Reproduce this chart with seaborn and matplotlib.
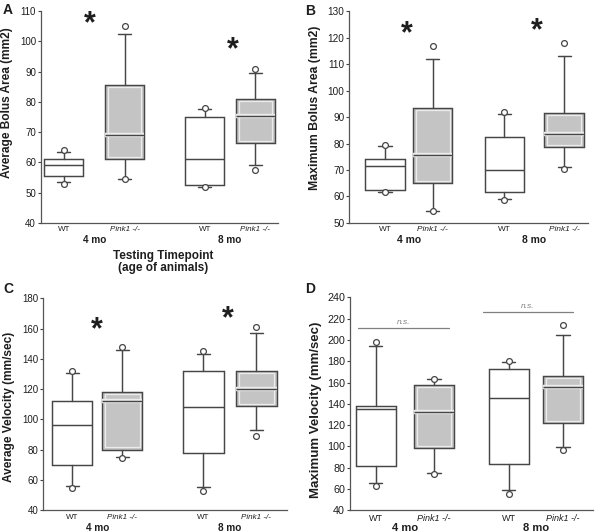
import matplotlib
matplotlib.use("Agg")
import matplotlib.pyplot as plt
import matplotlib.transforms as mtransforms
import matplotlib.patheffects as pe
from matplotlib.patches import Rectangle
import seaborn as sns

# ─── data: (low dot, whisker low, q1, median, q3, whisker high, high dot) ───
groups = ["WT", "Pink1 -/-", "WT", "Pink1 -/-"]
timepoints = ["4 mo", "8 mo"]

avg_area = [(53, 53.5, 55.5, 59, 61, 63.5, 64),
            (54.5, 54.5, 61, 69, 85.5, 102.5, 105),
            (52, 52, 52.5, 61, 75, 77.5, 78),
            (57.5, 59, 66.5, 75.5, 81, 89.5, 91)]
max_area = [(61.5, 61.5, 62.5, 71.5, 74, 79, 79.5),
            (54.5, 54.5, 65, 75.5, 93.5, 112, 117),
            (58.5, 59, 61.5, 70, 82.5, 91, 92),
            (70.5, 71, 78.5, 83.5, 91.5, 113, 118)]
avg_vel = [(55, 56, 70, 96, 112, 130.5, 132),
           (74.5, 75, 80, 112, 118, 146, 148),
           (53, 55.5, 77.5, 108.5, 132, 143, 145),
           (89, 93, 109, 120, 132, 157, 161)]
max_vel = [(63, 66, 82, 135, 138, 194, 198),
           (74, 75, 98, 132, 158, 163, 163),
           (55, 59, 83, 145, 173, 179, 180),
           (97, 99, 122, 156, 166, 205, 214)]

stars_a = [108, 99.5]
stars_b = [124, 125]
stars_c = [163.5, 171]
ns_d = [211, 226]

# ─── style ───────────────────────────────────────────────────────────────────
sns.set_style("ticks")
plt.rcParams["font.family"] = ["Liberation Sans", "DejaVu Sans"]
EDGE = "#464646"
TXT = "#1e1e1e"
FILL = {"WT": "white", "Pink1 -/-": "#c4c4c4"}

fig = plt.figure(figsize=(6, 5.32), dpi=100)

# letter, data, rect, ylim, step, ylabel, box x, stars, star x, label y, text scale
panels = [
    ("A", avg_area, [0.068, 0.581, 0.395, 0.398], (40, 110), 10,
     "Average Bolus Area (mm2)", [0.097, 0.354, 0.692, 0.905], stars_a, [0.207, 0.81], 0.57, 1.0),
    ("B", max_area, [0.582, 0.581, 0.398, 0.398], (50, 130), 10,
     "Maximum Bolus Area (mm2)", [0.15, 0.35, 0.65, 0.90], stars_b, [0.243, 0.786], 0.545, 1.03),
    ("C", avg_vel, [0.072, 0.041, 0.407, 0.398], (40, 180), 20,
     "Average Velocity (mm/sec)", [0.119, 0.324, 0.656, 0.873], stars_c, [0.221, 0.754], 0.49, 1.0),
    ("D", max_vel, [0.583, 0.041, 0.405, 0.4], (40, 240), 20,
     "Maximum Velocity (mm/sec)", [0.107, 0.346, 0.654, 0.877], None, None, 0.47, 1.11),
]
letter_xy = {"A": (0.004, 0.995), "B": (0.508, 0.993), "C": (0.006, 0.47), "D": (0.508, 0.47)}
BW = 0.165

for letter, data, rect, ylim, step, ylabel, pos, marks, mark_x, lab_y, k in panels:
    ax = fig.add_axes(rect)
    stats = []
    for g, (lo, wl, q1, med, q3, wh, hi) in zip(groups, data):
        stats.append(dict(med=med, q1=q1, q3=q3, whislo=wl, whishi=wh,
                          fliers=[lo, hi], label=g))
    bp = ax.bxp(stats, positions=pos, widths=BW, capwidths=0.055,
                patch_artist=True, showfliers=True,
                boxprops=dict(edgecolor=EDGE, linewidth=1.05),
                whiskerprops=dict(color=EDGE, linewidth=1.05),
                capprops=dict(color=EDGE, linewidth=1.05),
                medianprops=dict(color=EDGE, linewidth=1.05),
                flierprops=dict(marker="o", markersize=4.2, markerfacecolor="white",
                                markeredgecolor=EDGE, markeredgewidth=0.9))
    dy = (ylim[1] - ylim[0]) / 212 * 2.2
    for box, med_line, g, x, st in zip(bp["boxes"], bp["medians"], groups, pos, stats):
        box.set_facecolor(FILL[g])
        if g != "WT":
            # light inner outline + halo round the median, as in the original
            ax.add_patch(Rectangle((x - BW / 2 + 0.012, st["q1"] + dy),
                                   BW - 0.024, st["q3"] - st["q1"] - 2 * dy,
                                   fill=False, edgecolor="#ececec", linewidth=0.9, zorder=2.5))
            med_line.set_path_effects([pe.Stroke(linewidth=3.2, foreground="#ececec"),
                                       pe.Normal()])
            med_line.set_zorder(3)

    ax.set_xlim(0, 1)
    ax.set_ylim(*ylim)
    ax.set_yticks(range(ylim[0], ylim[1] + 1, step))
    ax.tick_params(axis="y", labelsize=7 * k, colors="#444444", labelcolor=TXT,
                   length=2.5, width=0.8, pad=1)
    ax.tick_params(axis="x", length=0, labelsize=5.8 * k, pad=2.5, labelcolor=TXT)
    ax.set_xticks(pos)
    ax.set_xticklabels(groups)
    for t in ax.get_xticklabels():
        if t.get_text().startswith("Pink1"):
            t.set_fontstyle("italic")
    ax.set_ylabel(ylabel, fontsize=8.6 * k, fontweight="bold", color=TXT)
    width_px = rect[2] * 600
    ax.yaxis.set_label_coords(-28 / width_px, lab_y)
    sns.despine(ax=ax)
    for s in ("left", "bottom"):
        ax.spines[s].set_color("#555555")
        ax.spines[s].set_linewidth(0.9)

    trans = mtransforms.blended_transform_factory(ax.transData, ax.transAxes)
    for i, tp in enumerate(timepoints):
        xm = (pos[2 * i] + pos[2 * i + 1]) / 2
        ax.annotate(tp, (xm, 0), xycoords=trans, xytext=(0, -12.5),
                    textcoords="offset points", ha="center", va="center",
                    fontsize=7.2 * k, fontweight="bold", color=TXT)

    if marks is not None:
        star_tr = mtransforms.offset_copy(ax.transData, fig=fig, x=0, y=-7, units="dots")
        for y, x in zip(marks, mark_x):
            ax.text(x, y, "*", ha="center", va="center", fontsize=22,
                    fontweight="bold", color=TXT, transform=star_tr)
    else:
        spans = [(0.033, 0.407), (0.547, 0.918)]
        for y, (x0, x1) in zip(ns_d, spans):
            ax.plot([x0, x1], [y, y], color="#808080", linewidth=0.9)
            ax.text((x0 + x1) / 2, y + 2, "n.s.", ha="center", va="bottom",
                    fontsize=6, fontstyle="italic", color="#808080")

    lx, ly = letter_xy[letter]
    fig.text(lx, ly, letter, fontsize=10, fontweight="bold", va="top", ha="left", color=TXT)

fig.text(0.272, 0.531, "Testing Timepoint\n(age of animals)", ha="center", va="top",
         fontsize=8.5, fontweight="bold", linespacing=1.05, color=TXT)

fig.savefig("out.png", dpi=100)
